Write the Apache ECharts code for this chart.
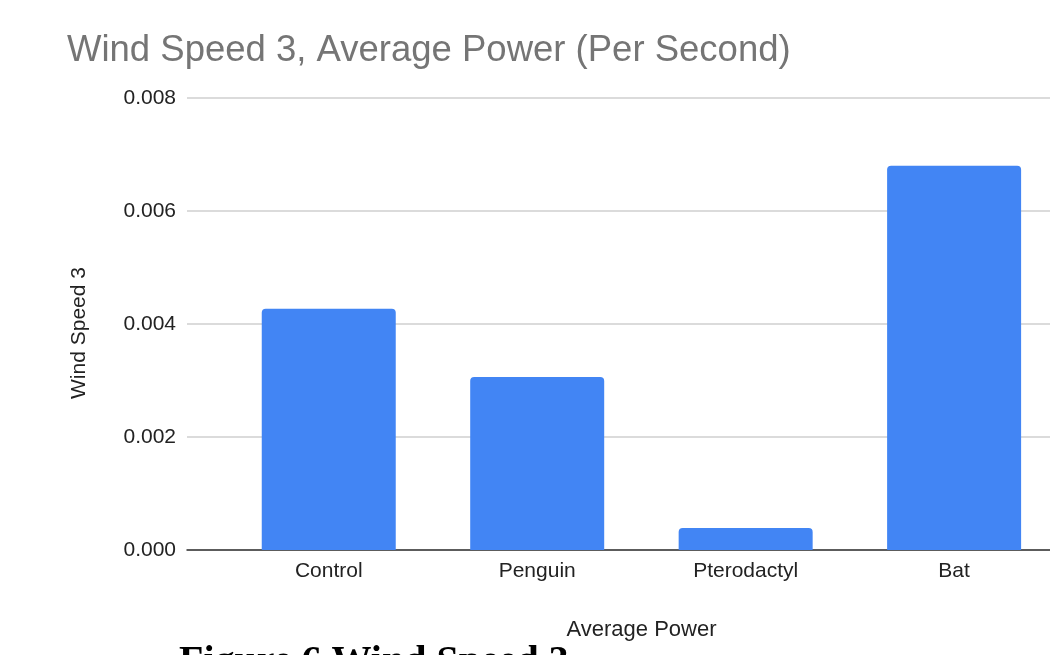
<!DOCTYPE html>
<html>
<head>
<meta charset="utf-8">
<script src="https://cdn.jsdelivr.net/npm/echarts@6/dist/echarts.min.js"></script>
<style>
  html, body { margin: 0; padding: 0; background: #fff; }
  #chart { width: 1050px; height: 655px; }
</style>
</head>
<body>
<div id="chart"></div>
<script>
// Average power per second at wind speed 3, one bar per blade design
const categories = ['Control', 'Penguin', 'Pterodactyl', 'Bat'];
const averagePower = [0.00427, 0.00306, 0.00039, 0.0068];
const yTicks = [0, 0.002, 0.004, 0.006, 0.008];

const chart = echarts.init(document.getElementById('chart'));

// Bars sit on a numeric x scale (one unit per category) so the left
// stub of the plot area before the first bar can be reproduced.
const barData = averagePower.map((v, i) => [i, v]);

const sans = 'Liberation Sans, Arial, sans-serif';

chart.setOption({
  animation: false,
  title: {
    text: 'Wind Speed 3, Average Power (Per Second)',
    left: 62,
    top: 27,
    textStyle: {
      fontFamily: sans,
      fontSize: 36.5,
      fontWeight: 'normal',
      color: '#757575'
    }
  },
  grid: { left: 187, right: 0, top: 98, bottom: 105, containLabel: false },
  xAxis: {
    type: 'value',
    min: -0.68,
    max: 3.46,
    name: 'Average Power',
    nameLocation: 'middle',
    nameGap: 69,
    nameTextStyle: {
      fontFamily: sans,
      fontSize: 22,
      color: '#222',
      padding: [0, 0, 0, 46]
    },
    splitLine: { show: false },
    axisTick: { show: false },
    axisLine: { show: true, onZero: false, lineStyle: { color: '#333', width: 1.5 } },
    axisLabel: {
      customValues: [0, 1, 2, 3],
      formatter: v => categories[Math.round(v)],
      margin: 11,
      fontFamily: sans,
      fontSize: 21,
      color: '#222'
    }
  },
  yAxis: {
    type: 'value',
    min: yTicks[0],
    max: yTicks[yTicks.length - 1],
    interval: 0.002,
    name: 'Wind Speed 3',
    nameLocation: 'middle',
    nameGap: 97,
    nameTextStyle: {
      fontFamily: sans,
      fontSize: 21,
      color: '#222',
      padding: [0, 18, 0, 0]
    },
    axisLine: { show: false },
    axisTick: { show: false },
    splitLine: { show: true, lineStyle: { color: '#cfcfcf', width: 1.5 } },
    axisLabel: {
      formatter: v => v.toFixed(3),
      margin: 11,
      fontFamily: sans,
      fontSize: 21,
      color: '#222'
    }
  },
  series: [{
    type: 'bar',
    data: barData,
    barWidth: 134,
    itemStyle: { color: '#4285F4', borderRadius: [4, 4, 0, 0] }
  }],
  graphic: [{
    type: 'text',
    left: 179,
    top: 643,
    style: {
      text: 'Figure 6 Wind Speed 3',
      fontFamily: 'Liberation Serif, Times New Roman, serif',
      fontSize: 40,
      fontWeight: 'bold',
      fill: '#000'
    }
  }]
});
</script>
</body>
</html>
